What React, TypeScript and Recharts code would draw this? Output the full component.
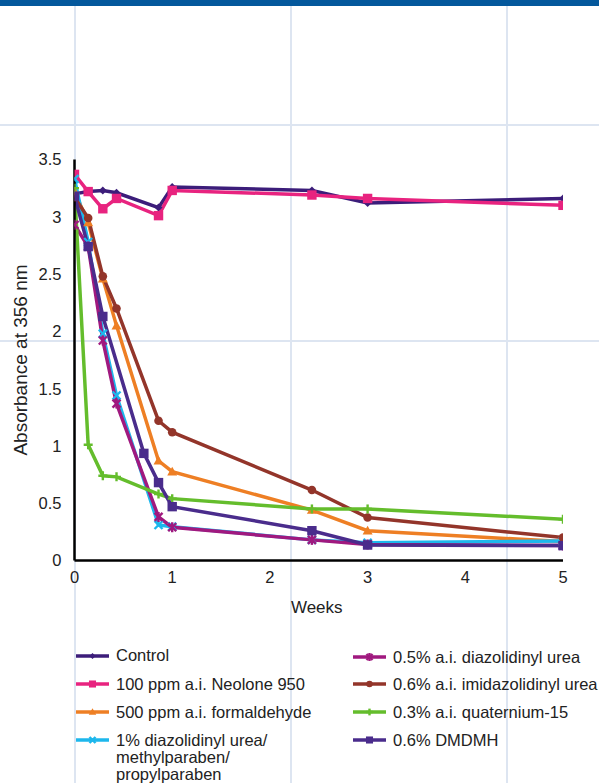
import React from 'react';
import { LineChart, Line, XAxis, YAxis, Label } from 'recharts';

// ---- data ----
const weeks = [0, 0.14, 0.29, 0.43, 0.86, 1, 2.43, 3, 5];
const weeksDMDMH = [0, 0.14, 0.29, 0.71, 0.86, 1, 2.43, 3, 5];

const control = [3.2, 3.22, 3.23, 3.21, 3.08, 3.26, 3.23, 3.12, 3.16];
const neolone = [3.37, 3.22, 3.07, 3.16, 3.01, 3.23, 3.19, 3.16, 3.1];
const formaldehyde = [3.22, 2.95, 2.46, 2.05, 0.87, 0.775, 0.44, 0.26, 0.165];
const duParabens = [3.33, 2.78, 1.98, 1.44, 0.31, 0.295, 0.18, 0.155, 0.17];
const diazolidinyl = [2.93, 2.74, 1.92, 1.37, 0.38, 0.29, 0.18, 0.14, 0.13];
const imidazolidinyl = [3.17, 2.99, 2.48, 2.2, 1.22, 1.12, 0.615, 0.375, 0.2];
const quaternium = [3.25, 1.01, 0.74, 0.73, 0.58, 0.54, 0.45, 0.45, 0.36];
const dmdmh = [3.18, 2.74, 2.13, 0.935, 0.68, 0.47, 0.26, 0.135, 0.13];

const yTicks = [0, 0.5, 1, 1.5, 2, 2.5, 3, 3.5];
const xTicks = [0, 1, 2, 3, 4, 5];

const seriesNames = [
  'Control',
  '100 ppm a.i. Neolone 950',
  '500 ppm a.i. formaldehyde',
  '1% diazolidinyl urea/methylparaben/propylparaben',
  '0.5% a.i. diazolidinyl urea',
  '0.6% a.i. imidazolidinyl urea',
  '0.3% a.i. quaternium-15',
  '0.6% DMDMH',
];

const series = [
  { name: seriesNames[0], x: weeks, y: control, color: '#3C1D7A', shape: 'diamond' },
  { name: seriesNames[1], x: weeks, y: neolone, color: '#E8237F', shape: 'square' },
  { name: seriesNames[2], x: weeks, y: formaldehyde, color: '#EE7F24', shape: 'triangle' },
  { name: seriesNames[3], x: weeks, y: duParabens, color: '#1DB7EC', shape: 'x' },
  { name: seriesNames[4], x: weeks, y: diazolidinyl, color: '#A0197F', shape: 'star' },
  { name: seriesNames[5], x: weeks, y: imidazolidinyl, color: '#93352A', shape: 'circle' },
  { name: seriesNames[6], x: weeks, y: quaternium, color: '#64BD2C', shape: 'plus' },
  { name: seriesNames[7], x: weeksDMDMH, y: dmdmh, color: '#4A2C8C', shape: 'square' },
];

function Marker({ cx, cy, shape, color, s = 1 }: any) {
  switch (shape) {
    case 'diamond': {
      const r = 4 * s;
      return <polygon points={`${cx},${cy - r} ${cx + r},${cy} ${cx},${cy + r} ${cx - r},${cy}`} fill={color} />;
    }
    case 'square': {
      const r = 4.7 * s;
      return <rect x={cx - r} y={cy - r} width={2 * r} height={2 * r} fill={color} />;
    }
    case 'triangle': {
      const r = 5 * s;
      return <polygon points={`${cx},${cy - r} ${cx + r},${cy + r * 0.75} ${cx - r},${cy + r * 0.75}`} fill={color} />;
    }
    case 'x': {
      const r = 4 * s;
      return (
        <g stroke={color} strokeWidth={2.4}>
          <line x1={cx - r} y1={cy - r} x2={cx + r} y2={cy + r} />
          <line x1={cx - r} y1={cy + r} x2={cx + r} y2={cy - r} />
        </g>
      );
    }
    case 'star': {
      const r = 4 * s;
      return (
        <g stroke={color} strokeWidth={2.4}>
          <line x1={cx - r} y1={cy - r} x2={cx + r} y2={cy + r} />
          <line x1={cx - r} y1={cy + r} x2={cx + r} y2={cy - r} />
          <line x1={cx} y1={cy - r - 1} x2={cx} y2={cy + r + 1} />
        </g>
      );
    }
    case 'circle':
      return <circle cx={cx} cy={cy} r={4.3 * s} fill={color} />;
    case 'plus': {
      const r = 4.5 * s;
      return (
        <g stroke={color} strokeWidth={2.4}>
          <line x1={cx - r} y1={cy} x2={cx + r} y2={cy} />
          <line x1={cx} y1={cy - r} x2={cx} y2={cy + r} />
        </g>
      );
    }
    default:
      return null;
  }
}

const makeDot = (shape: string, color: string, name: string) => (props: any) => {
  const { cx, cy, index } = props;
  if (cx == null || cy == null) return <g key={`${name}-${index}`} />;
  return (
    <g key={`${name}-${index}`}>
      <Marker cx={cx} cy={cy} shape={shape} color={color} />
    </g>
  );
};

const FONT = '"Liberation Sans", Arial, sans-serif';

const fmt = (v: number) => String(v);

function LegendItem({ item, left, top }: any) {
  const parts = item.name.split('/');
  const lines = parts.map((p: string, i: number) => (i < parts.length - 1 ? p + '/' : p));
  return (
    <div style={{ position: 'absolute', left, top: top - 8 }}>
      <svg width={34} height={16} style={{ position: 'absolute', left: 0, top: 0 }}>
        <line x1={0} y1={8} x2={33} y2={8} stroke={item.color} strokeWidth={3.5} />
        <Marker cx={16.5} cy={8} shape={item.shape} color={item.color} s={0.75} />
      </svg>
      <div
        style={{
          position: 'absolute',
          left: 40,
          top: -0.5,
          whiteSpace: 'nowrap',
          fontFamily: FONT,
          fontSize: 16.5,
          lineHeight: '17px',
          color: '#222',
        }}
      >
        {lines.map((l: string, i: number) => (
          <div key={i}>{l}</div>
        ))}
      </div>
    </div>
  );
}

export default function App() {
  const vLines = [74, 290, 506];
  const hLines = [124, 340];
  const rowsY = [655.5, 684, 712, 740];
  return (
    <div
      style={{
        position: 'absolute',
        left: 0,
        top: 0,
        width: 599,
        height: 783,
        background: '#fff',
        overflow: 'hidden',
        fontFamily: FONT,
      }}
    >
      <div style={{ position: 'absolute', left: 0, top: 0, width: 599, height: 6, background: '#04589C' }} />
      {vLines.map((x) => (
        <div key={'v' + x} style={{ position: 'absolute', left: x, top: 6, width: 2, height: 777, background: '#DDE5F1' }} />
      ))}
      {hLines.map((y) => (
        <div key={'h' + y} style={{ position: 'absolute', left: 0, top: y, width: 599, height: 2, background: '#DDE5F1' }} />
      ))}
      <div style={{ position: 'absolute', left: 0, top: 0 }}>
        <LineChart
          width={599}
          height={783}
          margin={{ top: 159.5, right: 36, bottom: 162.5, left: 0 }}
          style={{ fontFamily: FONT }}
        >
          <XAxis
            type="number"
            dataKey="x"
            domain={[0, 5]}
            ticks={xTicks}
            height={60}
            axisLine={{ stroke: '#000', strokeWidth: 2.5 }}
            tickLine={false}
            tickSize={0}
            tickMargin={11}
            tick={{ fill: '#222', fontSize: 16.5, fontFamily: FONT }}
            allowDataOverflow
          >
            <Label
              content={(p: any) => {
                const vb = p.viewBox || { x: 0, y: 0, width: 0 };
                return (
                  <text x={vb.x + vb.width / 2 - 2} y={vb.y + 52.5} textAnchor="middle" fontSize={17} fill="#222" fontFamily={FONT}>
                    Weeks
                  </text>
                );
              }}
            />
          </XAxis>
          <YAxis
            type="number"
            dataKey="y"
            domain={[0, 3.5]}
            ticks={yTicks}
            width={74.5}
            axisLine={{ stroke: '#000', strokeWidth: 2.5 }}
            tickLine={false}
            tickSize={0}
            tickMargin={13}
            tickFormatter={fmt}
            tick={{ fill: '#222', fontSize: 16.5, fontFamily: FONT }}
          >
            <Label
              content={(p: any) => {
                const vb = p.viewBox || { x: 0, y: 0, height: 0 };
                const cy = vb.y + vb.height / 2;
                return (
                  <text x={27} y={cy} transform={`rotate(-90, 27, ${cy})`} textAnchor="middle" fontSize={19} fill="#222" fontFamily={FONT}>
                    Absorbance at 356 nm
                  </text>
                );
              }}
            />
          </YAxis>
          {series.map((s) => (
            <Line
              key={s.name}
              name={s.name}
              data={s.x.map((w, i) => ({ x: w, y: s.y[i] }))}
              dataKey="y"
              type="linear"
              stroke={s.color}
              strokeWidth={3.5}
              dot={makeDot(s.shape, s.color, s.name)}
              activeDot={false}
              isAnimationActive={false}
            />
          ))}
        </LineChart>
      </div>
      {series.slice(0, 4).map((s, i) => (
        <LegendItem key={s.name} item={s} left={76} top={rowsY[i]} />
      ))}
      {series.slice(4).map((s, i) => (
        <LegendItem key={s.name} item={s} left={353} top={rowsY[i] + (i === 0 ? 1.5 : 0)} />
      ))}
    </div>
  );
}
